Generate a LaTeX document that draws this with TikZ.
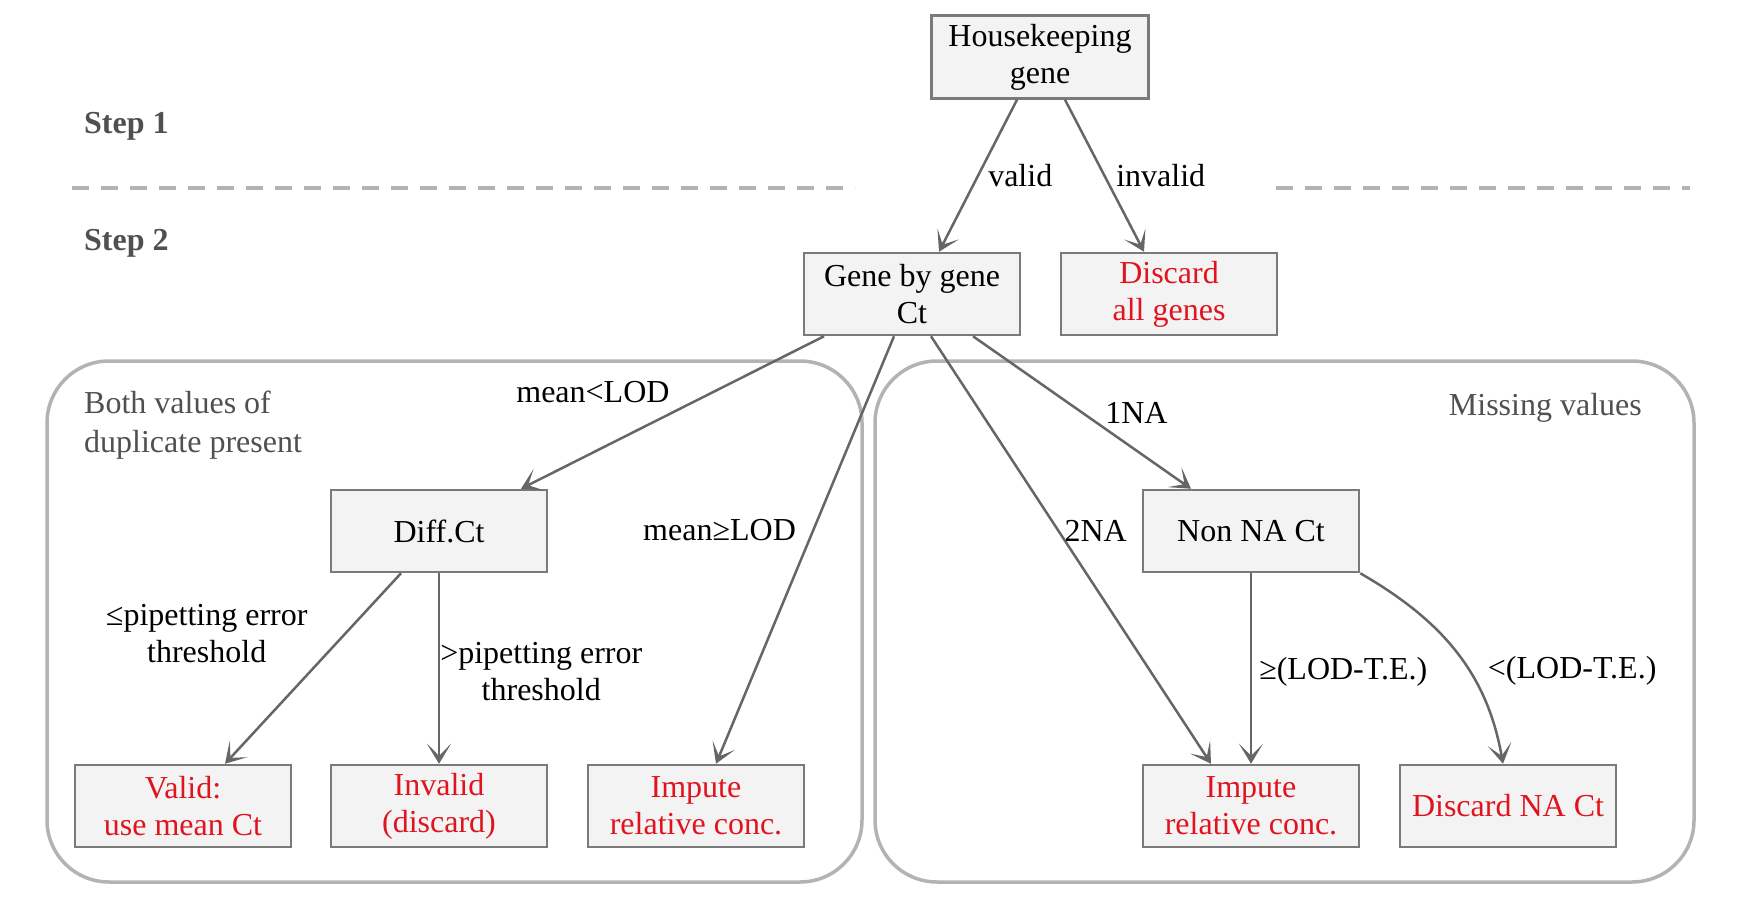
\documentclass[tikz,border=0pt]{standalone}
\usepackage{fontspec}
\setmainfont{Liberation Serif}
\usetikzlibrary{arrows.meta}
\definecolor{boxfill}{HTML}{F3F3F3}
\definecolor{boxline}{HTML}{7A7A7A}
\definecolor{arrline}{HTML}{666666}
\definecolor{grpline}{HTML}{B3B3B3}
\definecolor{txtgray}{HTML}{505050}
\definecolor{outred}{HTML}{E0141E}
\begin{document}
\begin{tikzpicture}[x=1pt, y=-1pt, font=\fontsize{32}{37}\selectfont]
\tikzstyle{n}=[draw=boxline, line width=2.5pt, fill=boxfill, minimum width=216pt, minimum height=82pt, align=center, inner sep=0pt]
\tikzstyle{nr}=[n, text=outred]
\tikzstyle{arr}=[draw=arrline, line width=2.5pt, -{Stealth[length=20pt,width=24pt,inset=12pt]}]
\tikzstyle{lbl}=[inner sep=0pt, align=center]
\tikzstyle{grp}=[draw=grpline, line width=3.5pt, rounded corners=62pt]
\tikzstyle{sep}=[draw=grpline, line width=4pt, dash pattern=on 17pt off 12pt]
\tikzstyle{stp}=[font=\fontsize{32}{37}\selectfont\bfseries, text=txtgray, inner sep=0pt]

\useasboundingbox (0,0) rectangle (1746,897);

% groups and step separators
\draw[grp] (47,361) rectangle (862,882);
\draw[grp] (875,361) rectangle (1694,882);
\draw[sep] (72,188) -- (855,188);
\draw[sep] (1276,188) -- (1690,188);
\node[stp, anchor=base west] (step1) at (84,133) {Step 1};
\node[stp, anchor=base west] (step2) at (84,250) {Step 2};
\node[lbl, text=txtgray, align=left, anchor=north west, font=\fontsize{32}{39}\selectfont] (both) at (84,391) {Both values of\\duplicate present};
\node[lbl, text=txtgray, anchor=base east] (miss) at (1642,415) {Missing values};

% boxes
\node[n, minimum width=217pt, minimum height=83pt] (hk) at (1040,57) {Housekeeping\\gene};
\node[n]  (gene)    at ( 912,294) {Gene by gene\\Ct};
\node[nr] (discall) at (1169,294) {Discard\\all genes};
\node[n]  (diff)    at ( 439,531) {Diff.Ct};
\node[n]  (nonna)   at (1251,531) {Non NA Ct};
\node[nr] (valid)   at ( 183,806) {Valid:\\use mean Ct};
\node[nr] (invalid) at ( 439,806) {Invalid\\(discard)};
\node[nr] (impl)    at ( 696,806) {Impute\\relative conc.};
\node[nr] (impr)    at (1251,806) {Impute\\relative conc.};
\node[nr] (discna)  at (1508,806) {Discard NA Ct};

% arrows
\draw[arr] ([xshift=-23pt]hk.south) -- node[lbl, pos=0.5, anchor=west, xshift=9pt] (lvalid) {valid} ([xshift=27pt]gene.north);
\draw[arr] ([xshift=25pt]hk.south) -- node[lbl, pos=0.5, anchor=west, xshift=10.5pt] (linvalid) {invalid} ([xshift=-25pt]discall.north);
\draw[arr] ([xshift=-88pt]gene.south) -- node[lbl, pos=0.364, anchor=east, xshift=-43pt] (lmeanlt) {mean<LOD} ([xshift=82pt]diff.north);
\draw[arr] ([xshift=-18pt]gene.south) -- node[lbl, pos=0.4545, anchor=east, xshift=-16pt] (lmeange) {mean≥LOD} ([xshift=20pt]impl.north);
\draw[arr] ([xshift=19pt]gene.south) -- node[lbl, pos=0.4545, anchor=west, xshift=5pt] (ltwona) {2NA} ([xshift=-40pt]impr.north);
\draw[arr] ([xshift=61pt]gene.south) -- node[lbl, pos=0.5, anchor=west, xshift=22pt] (lonena) {1NA} ([xshift=-60pt]nonna.north);
\draw[arr] ([xshift=-38pt]diff.south) -- node[lbl, pos=0.314, anchor=east, xshift=-37pt] (lle) {≤pipetting error\\threshold} ([xshift=42pt]valid.north);
\draw[arr] (diff) -- node[lbl, pos=0.518, anchor=west] (lgt) {>pipetting error\\threshold} (invalid);
\draw[arr] (nonna) -- node[lbl, pos=0.518, anchor=west, xshift=7pt] (lge) {≥(LOD-T.E.)} (impr);
\draw[arr] (nonna.south east) to[out=-30, in=100] node[lbl, pos=0.55, anchor=west, xshift=24pt, yshift=-10pt] (llt) {<(LOD-T.E.)} ([xshift=-5pt]discna.north);
\end{tikzpicture}
\end{document}
